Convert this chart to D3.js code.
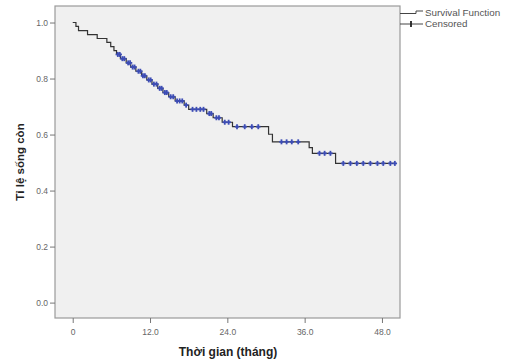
<!DOCTYPE html>
<html>
<head>
<meta charset="utf-8">
<script src="https://cdn.jsdelivr.net/npm/d3@7"></script>
<style>
  body { margin: 0; background: #fff; }
  svg { display: block; font-family: "Liberation Sans", Arial, sans-serif; }
</style>
</head>
<body>
<svg id="chart" width="509" height="364"></svg>
<script>
// Kaplan-Meier steps (months, survival after the event)
const eventTimes = [0.5, 0.9, 2.3, 3.8, 5.3, 5.9, 6.4, 6.8,
  7.4, 8.3, 9.0, 9.8, 10.7, 11.5, 12.3, 13.2, 14.0, 14.9, 15.9, 17.3, 18.0,
  20.8, 21.8, 23.2, 24.8, 30.4, 31.0, 36.7, 37.2, 40.8];
const survival = [0.986, 0.971, 0.957, 0.943, 0.929, 0.914, 0.900, 0.886,
  0.871, 0.856, 0.841, 0.826, 0.810, 0.795, 0.780, 0.765, 0.750, 0.735, 0.720, 0.705, 0.690,
  0.675, 0.660, 0.644, 0.628, 0.601, 0.574, 0.553, 0.533, 0.497];
const censorTimes = [7.0, 7.3, 7.7, 8.0, 8.6, 8.9, 9.3, 9.6, 10.2, 10.5, 10.9, 11.2, 11.8,
  12.1, 12.6, 13.0, 13.5, 13.8, 14.3, 14.6, 15.2, 15.6, 16.2, 16.6, 17.0, 17.6, 18.6,
  19.2, 19.8, 20.3, 21.2, 21.5, 22.3, 22.7, 23.6, 24.2, 25.5, 26.7, 27.8, 28.8, 32.4,
  33.2, 34.0, 35.0, 38.3, 39.1, 40.0, 42.0, 43.1, 44.1, 45.1, 46.2, 47.3, 48.2, 49.3, 50.0];
const endTime = 50.0;
const xTicks = [0, 12, 24, 36, 48];
const yTicks = [0, 0.2, 0.4, 0.6, 0.8, 1.0];
const legendItems = ['Survival Function', 'Censored'];

const svg = d3.select('#chart');
const frame = { left: 55, right: 400, top: 6, bottom: 318 };

const x = d3.scaleLinear().domain([-2.75, 50.8]).range([frame.left, frame.right]);
const y = d3.scaleLinear().domain([-0.055, 1.059]).range([frame.bottom, frame.top]);

// plot background
svg.append('rect')
  .attr('x', frame.left).attr('y', frame.top)
  .attr('width', frame.right - frame.left).attr('height', frame.bottom - frame.top)
  .attr('fill', '#f0f0f0')
  .attr('stroke', '#9a9a9a')
  .attr('stroke-width', 1.2);

// axes
const xAxis = d3.axisBottom(x).tickValues(xTicks).tickSize(5).tickSizeOuter(0)
  .tickFormat(d => d === 0 ? '0' : d3.format('.1f')(d));
const gx = svg.append('g').attr('transform', `translate(0,${frame.bottom})`).call(xAxis);
gx.select('.domain').remove();
gx.selectAll('line').attr('stroke', '#777');
gx.selectAll('text').attr('fill', '#666').attr('font-size', 8.5).attr('dy', '1.1em');

const yAxis = d3.axisLeft(y).tickValues(yTicks).tickSize(5).tickSizeOuter(0)
  .tickFormat(d3.format('.1f'));
const gy = svg.append('g').attr('transform', `translate(${frame.left},0)`).call(yAxis);
gy.select('.domain').remove();
gy.selectAll('line').attr('stroke', '#777');
gy.selectAll('text').attr('fill', '#666').attr('font-size', 8.5).attr('x', -7);

// axis titles
svg.append('text')
  .attr('x', 228).attr('y', 356)
  .attr('text-anchor', 'middle')
  .attr('font-size', 12).attr('font-weight', 'bold').attr('fill', '#222')
  .text('Thời gian (tháng)');
svg.append('text')
  .attr('transform', 'translate(24,162) rotate(-90)')
  .attr('text-anchor', 'middle')
  .attr('font-size', 11.5).attr('font-weight', 'bold').attr('fill', '#222')
  .text('Tỉ lệ sống còn');

// step curve
const pts = [[0, 1]].concat(eventTimes.map((t, i) => [t, survival[i]]));
pts.push([endTime, survival[survival.length - 1]]);
const line = d3.line().x(d => x(d[0])).y(d => y(d[1])).curve(d3.curveStepAfter);
svg.append('path')
  .attr('d', line(pts))
  .attr('fill', 'none')
  .attr('stroke', '#333')
  .attr('stroke-width', 1.2);

// censored marks
const survAt = t => {
  const i = d3.bisectRight(eventTimes, t);
  return i === 0 ? 1 : survival[i - 1];
};
const marks = svg.append('g').attr('stroke', '#3d4db5').attr('stroke-width', 1.8);
censorTimes.forEach(t => {
  const cx = x(t), cy = y(survAt(t));
  marks.append('line').attr('x1', cx).attr('x2', cx).attr('y1', cy - 2.5).attr('y2', cy + 2.5);
  marks.append('line').attr('x1', cx - 2.2).attr('x2', cx + 2.2).attr('y1', cy).attr('y2', cy);
});

// legend
const lg = svg.append('g');
lg.append('path')
  .attr('d', 'M400,13.5 H416 V11 H423')
  .attr('fill', 'none').attr('stroke', '#444').attr('stroke-width', 1);
lg.append('line').attr('x1', 400).attr('x2', 423).attr('y1', 24).attr('y2', 24)
  .attr('stroke', '#444').attr('stroke-width', 1);
lg.append('line').attr('x1', 411).attr('x2', 411).attr('y1', 21).attr('y2', 27)
  .attr('stroke', '#222').attr('stroke-width', 1.8);
lg.selectAll('text.leg')
  .data(legendItems)
  .enter()
  .append('text')
  .attr('class', 'leg')
  .attr('x', 425)
  .attr('y', (d, i) => 16 + i * 11)
  .attr('font-size', 9.8)
  .attr('fill', '#555')
  .text(d => d);
</script>
</body>
</html>
